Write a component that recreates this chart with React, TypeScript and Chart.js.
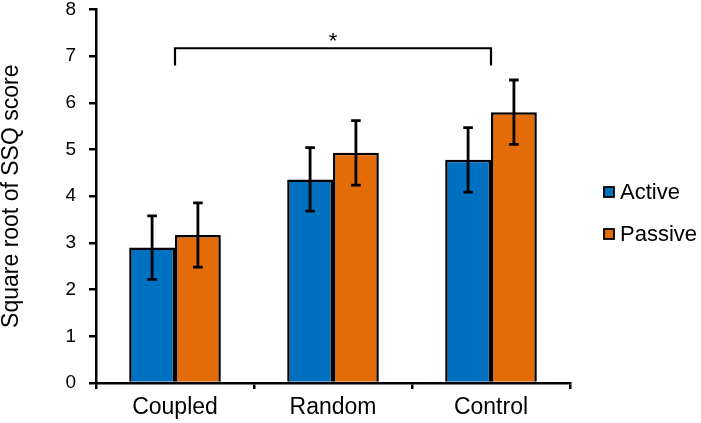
import { useEffect, useRef } from 'react';
import { Chart, registerables } from 'chart.js';

Chart.register(...registerables);

const categories = ['Coupled', 'Random', 'Control'];
const activeValues = [2.9, 4.36, 4.78];
const passiveValues = [3.17, 4.93, 5.8];
const activeErrors = [0.68, 0.68, 0.69];
const passiveErrors = [0.69, 0.69, 0.69];
const yTicks = [0, 1, 2, 3, 4, 5, 6, 7, 8];

// significance bracket between Coupled and Control
const bracketFrom = 'Coupled';
const bracketTo = 'Control';
const bracketTop = 7.17;
const bracketBottom = 6.8;
const starValue = 7.4;

const FONT = "'Liberation Sans', Arial, sans-serif";
const BLUE = '#0070C0';
const ORANGE = '#E36C09';

const errorBarsPlugin = {
  id: 'errorBars',
  afterDatasetsDraw(chart: any) {
    const { ctx } = chart;
    const y = chart.scales.y;
    const errs = [activeErrors, passiveErrors];
    ctx.save();
    ctx.strokeStyle = '#000';
    ctx.lineWidth = 2.8;
    chart.data.datasets.forEach((ds: any, i: number) => {
      const meta = chart.getDatasetMeta(i);
      meta.data.forEach((bar: any, j: number) => {
        const v = ds.data[j];
        const e = errs[i][j];
        const top = y.getPixelForValue(v + e);
        const bot = y.getPixelForValue(v - e);
        ctx.beginPath();
        ctx.moveTo(bar.x, top);
        ctx.lineTo(bar.x, bot);
        ctx.moveTo(bar.x - 4.8, top);
        ctx.lineTo(bar.x + 4.8, top);
        ctx.moveTo(bar.x - 4.8, bot);
        ctx.lineTo(bar.x + 4.8, bot);
        ctx.stroke();
      });
    });

    // bracket
    const x = chart.scales.x;
    const x1 = x.getPixelForValue(categories.indexOf(bracketFrom));
    const x2 = x.getPixelForValue(categories.indexOf(bracketTo));
    const yt = y.getPixelForValue(bracketTop);
    const yb = y.getPixelForValue(bracketBottom);
    ctx.lineWidth = 2.2;
    ctx.beginPath();
    ctx.moveTo(x1, yb);
    ctx.lineTo(x1, yt);
    ctx.lineTo(x2, yt);
    ctx.lineTo(x2, yb);
    ctx.stroke();
    ctx.fillStyle = '#000';
    ctx.font = `22px ${FONT}`;
    ctx.textAlign = 'center';
    ctx.textBaseline = 'middle';
    ctx.fillText('*', (x1 + x2) / 2, y.getPixelForValue(starValue) + 4);
    ctx.restore();
  },
};

const legendPlugin = {
  id: 'sideLegend',
  afterDraw(chart: any) {
    const { ctx } = chart;
    ctx.save();
    chart.data.datasets.forEach((ds: any, i: number) => {
      const cy = 192 + i * 42;
      ctx.fillStyle = ds.backgroundColor;
      ctx.fillRect(604, cy - 5, 10, 10);
      ctx.strokeStyle = '#000';
      ctx.lineWidth = 1.8;
      ctx.strokeRect(604, cy - 5, 10, 10);
      ctx.fillStyle = '#000';
      ctx.font = `22px ${FONT}`;
      ctx.textAlign = 'left';
      ctx.textBaseline = 'middle';
      ctx.fillText(ds.label, 620, cy + 1);
    });
    ctx.restore();
  },
};

export default function App() {
  const canvasRef = useRef<HTMLCanvasElement>(null);
  const chartRef = useRef<Chart | null>(null);

  useEffect(() => {
    document.body.style.margin = '0';
    if (!canvasRef.current) return;
    const ctx = canvasRef.current.getContext('2d');
    if (!ctx) return;

    if (chartRef.current) {
      chartRef.current.destroy();
    }

    chartRef.current = new Chart(ctx, {
      type: 'bar',
      data: {
        labels: categories,
        datasets: [
          {
            label: 'Active',
            data: activeValues,
            backgroundColor: BLUE,
            borderColor: '#000',
            borderWidth: 2.5,
          },
          {
            label: 'Passive',
            data: passiveValues,
            backgroundColor: ORANGE,
            borderColor: '#000',
            borderWidth: 2.5,
          },
        ],
      },
      options: {
        responsive: false,
        animation: false,
        layout: { padding: { left: 0, right: 131, top: 9.5, bottom: 0 } },
        datasets: {
          bar: { categoryPercentage: 0.58, barPercentage: 1 },
        },
        plugins: {
          legend: { display: false },
          tooltip: { enabled: false },
        },
        scales: {
          x: {
            offset: true,
            grid: {
              offset: true,
              drawOnChartArea: false,
              drawTicks: true,
              tickLength: 6,
              color: '#000',
              lineWidth: 2.5,
            },
            border: { color: '#000', width: 2.5 },
            ticks: {
              color: '#000',
              padding: 5,
              font: { family: FONT, size: 23 },
            },
            afterFit(scale: any) {
              scale.height = 40;
              scale.paddingLeft = 0;
              scale.paddingRight = 0;
            },
          },
          y: {
            min: 0,
            max: 8,
            afterBuildTicks(scale: any) {
              scale.ticks = yTicks.map((v) => ({ value: v }));
            },
            grid: {
              drawOnChartArea: false,
              drawTicks: true,
              tickLength: 7,
              color: '#000',
              lineWidth: 2.5,
            },
            border: { color: '#000', width: 2.5 },
            ticks: {
              color: '#000',
              padding: 13,
              font: { family: FONT, size: 19 },
            },
            title: {
              display: true,
              text: 'Square root of SSQ score',
              color: '#000',
              font: { family: FONT, size: 23, lineHeight: 1 },
              padding: { top: 0, bottom: 0 },
            },
            afterFit(scale: any) {
              scale.width = 96;
              scale.paddingTop = 0;
              scale.paddingBottom = 0;
            },
          },
        },
      },
      plugins: [errorBarsPlugin, legendPlugin],
    });

    return () => {
      if (chartRef.current) {
        chartRef.current.destroy();
        chartRef.current = null;
      }
    };
  }, []);

  return (
    <div style={{ width: 701, height: 423, background: '#fff' }}>
      <canvas ref={canvasRef} width={701} height={423} />
    </div>
  );
}
